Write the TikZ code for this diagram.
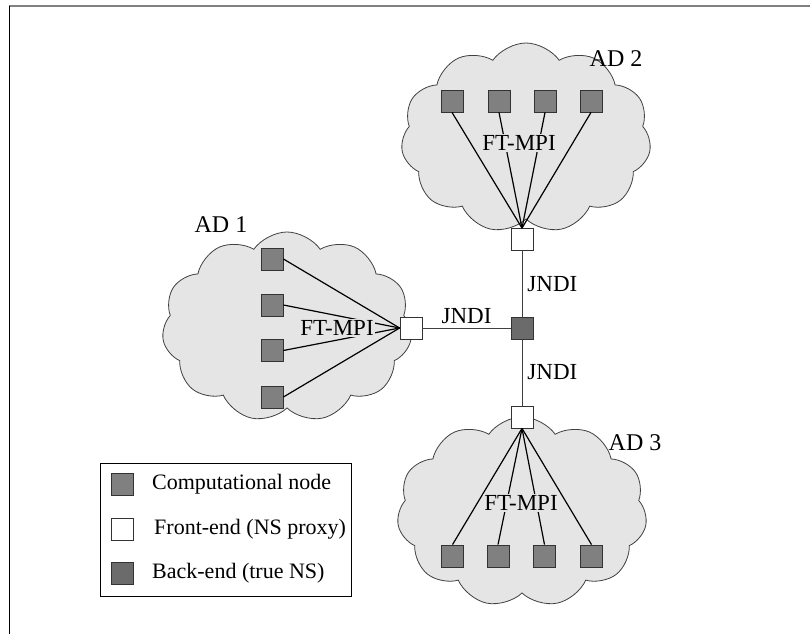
\documentclass[tikz,border=0pt]{standalone}
\usepackage{fontspec}
\setmainfont{Liberation Serif}
\usetikzlibrary{shapes.symbols}
\definecolor{cloudgray}{gray}{0.9}
\definecolor{compgray}{gray}{0.5}
\definecolor{backgray}{gray}{0.42}

\begin{document}
\begin{tikzpicture}[x=1pt, y=1pt,
    comp node/.style={rectangle, draw=black!80, fill=compgray, minimum size=22pt, inner sep=0pt, line width=0.8pt},
    front node/.style={comp node, fill=white},
    back node/.style={comp node, fill=backgray},
    ad cloud/.style={cloud, cloud puffs=11, cloud puff arc=110, cloud ignores aspect, draw=black!75, fill=cloudgray, minimum width=250pt, minimum height=190pt, line width=0.8pt},
    ad label/.style={font=\fontsize{24}{28}\selectfont},
    mpi label/.style={fill=cloudgray, inner sep=1pt, font=\fontsize{23}{27}\selectfont},
    link/.style={line width=1.2pt},
    jndi/.style={line width=0.9pt, draw=black!75}]
        \tikzstyle{every node}=[font=\fontsize{22}{26}\selectfont]
        \useasboundingbox (0,0) rectangle (810,634);

        % frame
        \draw[line width=1.7pt, black!50] (9,628) -- (810,628);
        \draw[line width=1pt] (9,628) -- (9,0);

        % domains
          \node[ad cloud] (cl1) at (287,307) {};
          \node[ad cloud] (cl2) at (526,496) {};
          \node[ad cloud] (cl3) at (522,122) {};
          \node[ad label] (ad1) at (221,409) {AD 1};
          \node[ad label] (ad2) at (616,575) {AD 2};
          \node[ad label] (ad3) at (635,191) {AD 3};

        % name servers
          \node[back node] (be) at (522,306) {};
          \node[front node] (fe1) at (411,306) {};
          \node[front node] (fe2) at (522,394.5) {};
          \node[front node] (fe3) at (522,217) {};

        % computational nodes
          \node[comp node] (a1) at (272,375) {};
          \node[comp node] (a2) at (272,329) {};
          \node[comp node] (a3) at (272,283.5) {};
          \node[comp node] (a4) at (272,237) {};
          \node[comp node] (b1) at (452,533) {};
          \node[comp node] (b2) at (499,533) {};
          \node[comp node] (b3) at (545,533) {};
          \node[comp node] (b4) at (591,533) {};
          \node[comp node] (c1) at (452.5,78) {};
          \node[comp node] (c2) at (498,78) {};
          \node[comp node] (c3) at (544.5,78) {};
          \node[comp node] (c4) at (591.5,78) {};

          \path[link]
            (fe1.west) edge (a1.east)
            	edge (a2.east)
            	edge (a3.east)
            	edge (a4.east)
            (fe2.north) edge (b1.south)
            	edge (b2.south)
            	edge (b3.south)
            	edge (b4.south)
            (fe3.south) edge (c1.north)
            	edge (c2.north)
            	edge (c3.north)
            	edge (c4.north);

          \node[mpi label] (mpi1) at (337,306) {FT-MPI};
          \node[mpi label] (mpi2) at (519,491) {FT-MPI};
          \node[mpi label] (mpi3) at (521,131) {FT-MPI};

          \path[jndi, every node/.style={font=\fontsize{23}{27}\selectfont, inner sep=0pt}]
            (fe1) edge node [above=4pt] {JNDI} (be)
            (be) edge node [right=5pt] {JNDI} (fe2)
            	edge node [right=5pt] {JNDI} (fe3);

        % legend
          \node[draw, line width=0.8pt, minimum width=251pt, minimum height=133pt, inner sep=0pt] (legend) at (225.5,104.5) {};
          \node[comp node] (lcomp) at (122,150) {};
          \node[front node] (lfront) at (122,105) {};
          \node[back node] (lback) at (122,61) {};
          \node[anchor=west, inner sep=0pt] (tcomp) at (152,150) {Computational node};
          \node[anchor=west, inner sep=0pt] (tfront) at (154,105) {Front-end (NS proxy)};
          \node[anchor=west, inner sep=0pt] (tback) at (152,61) {Back-end (true NS)};

\end{tikzpicture}
\end{document}
